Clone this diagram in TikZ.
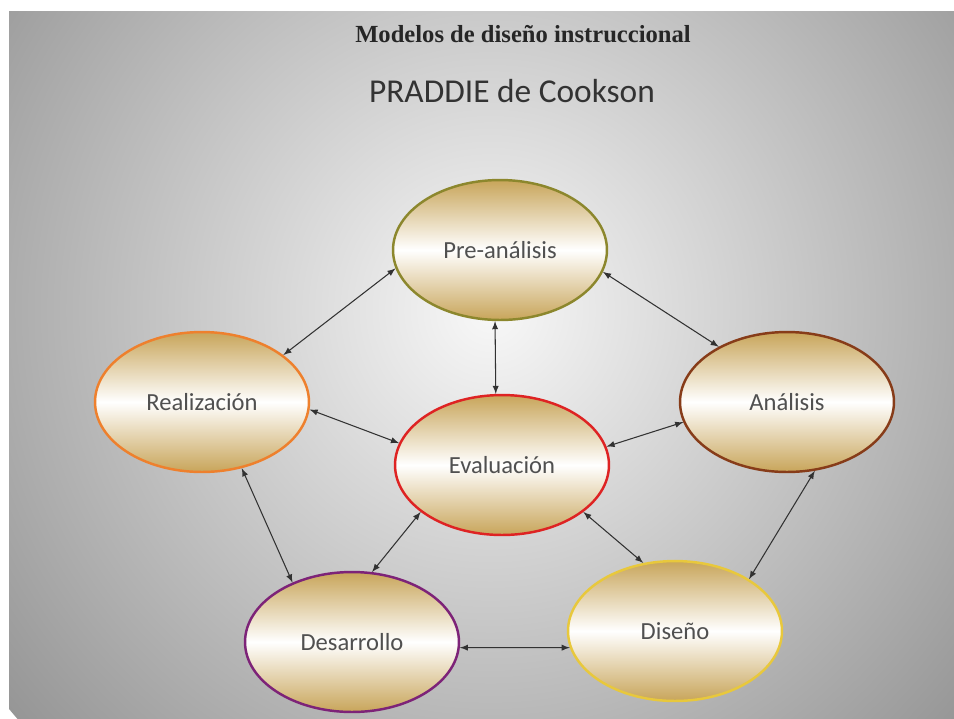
\documentclass[tikz,border=0pt]{standalone}
\usepackage{fontspec}
\setmainfont{Carlito}
\newfontfamily\headfont{Liberation Serif}
\usetikzlibrary{shapes,positioning}
\definecolor{fill_tan}{RGB}{200,165,90}
\definecolor{bg_edge}{RGB}{150,150,150}
\definecolor{bg_mid}{RGB}{248,248,248}
\definecolor{text_gray}{RGB}{80,80,80}
\definecolor{line_gray}{RGB}{50,50,50}
\definecolor{edge_pre}{RGB}{140,135,45}
\definecolor{edge_real}{RGB}{238,128,45}
\definecolor{edge_anal}{RGB}{135,60,25}
\definecolor{edge_eval}{RGB}{222,35,35}
\definecolor{edge_desa}{RGB}{125,35,120}
\definecolor{edge_dise}{RGB}{232,200,60}

\begin{document}
\begin{tikzpicture}[x=0.02cm,y=-0.02cm,
		fase/.style={ellipse, draw, line width=1.4pt, minimum width=4.28cm, minimum height=2.8cm, inner sep=0pt,
			top color=fill_tan, bottom color=fill_tan, middle color=white, text=text_gray, font=\fontsize{14}{16}\selectfont},
		conn/.style={<->, >=latex, line width=0.6pt, draw=line_gray}]
		\useasboundingbox (0,0) rectangle (954,718);
		\fill[white] (0,0) rectangle (954,718);
		\begin{scope}
			\clip (9,11) rectangle (954,718);
			\shade[inner color=bg_mid, outer color=bg_edge] (490,310) circle (12.5cm);
		\end{scope}
		% titulos
		\node[anchor=base, text=black!85, font=\headfont\bfseries\fontsize{14}{16}\selectfont] (title) at (523,42) {Modelos de diseño instruccional};
		\node[anchor=base, text=black!80, font=\fontsize{19}{22}\selectfont] (subtitle) at (512,102) {PRADDIE de Cookson};
		% fases
		\node[fase, draw=edge_pre] (pre) at (500,250) {Pre-análisis};
		\node[fase, draw=edge_real] (real) at (202,402) {Realización};
		\node[fase, draw=edge_anal] (anal) at (787,402) {Análisis};
		\node[fase, draw=edge_eval] (eval) at (502,465) {Evaluación};
		\node[fase, draw=edge_desa] (desa) at (352,642) {Desarrollo};
		\node[fase, draw=edge_dise] (dise) at (675,631) {Diseño};
		% flechas
		\draw[conn] (pre.190) -- (real.30);
		\draw[conn] (pre.348) -- (anal.141);
		\draw[conn] (pre.266) -- (eval.95);
		\draw[conn] (real.356) -- (eval.168);
		\draw[conn] (anal.191) -- (eval.10);
		\draw[conn] (real.301) -- (desa.135);
		\draw[conn] (eval.210) -- (desa.74);
		\draw[conn] (eval.330) -- (dise.115);
		\draw[conn] (anal.292) -- (dise.35);
		\draw[conn] (desa.357) -- (dise.189);
	\end{tikzpicture}
\end{document}
